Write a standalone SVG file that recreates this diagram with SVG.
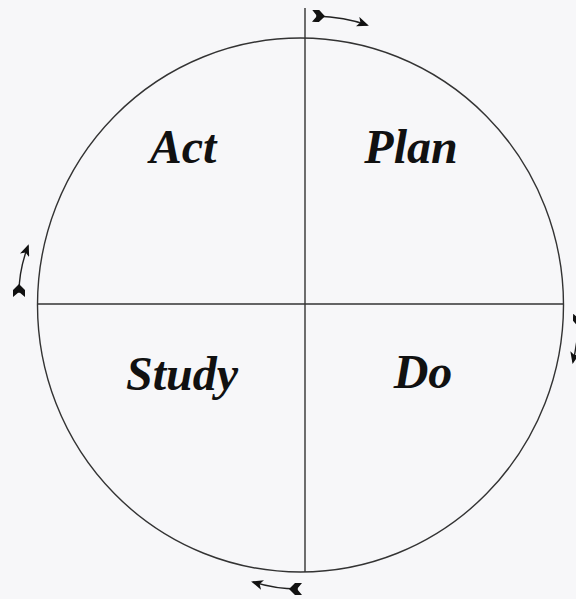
<svg xmlns="http://www.w3.org/2000/svg" width="576" height="599" viewBox="0 0 576 599">
<style>
.ln{fill:none;stroke:#333;stroke-width:1.4}
.arr{fill:none;stroke:#222;stroke-width:1.4;marker-start:url(#tail);marker-end:url(#head)}
.lbl{font-family:"Liberation Serif","DejaVu Serif",serif;font-style:italic;font-weight:bold;font-size:48px;fill:#111;text-anchor:middle}
</style>
<defs>
<marker id="head" viewBox="0 0 12 10" refX="10" refY="5" markerWidth="12" markerHeight="10" markerUnits="userSpaceOnUse" orient="auto">
<path d="M0,0 L12,5 L0,10 L3,5 z" fill="#111"/>
</marker>
<marker id="tail" viewBox="0 0 14 12" refX="4" refY="6" markerWidth="14" markerHeight="12" markerUnits="userSpaceOnUse" orient="auto">
<path d="M0,0 L7,0 L13,6 L7,12 L0,12 L5,6 z" fill="#111"/>
</marker>
</defs>
<rect width="576" height="599" fill="#f7f7f9"/>
<g id="connectors">
<path class="arr" d="M316,16 Q345,17 367,25"/>
<path class="arr" d="M19,293 Q19,270 28,246"/>
<path class="arr" d="M298,589 Q275,589 253,582"/>
<path class="arr" d="M579,318 Q578,340 573,362"/>
</g>
<g id="cycle">
<ellipse class="ln" cx="300.5" cy="305" rx="263" ry="267"/>
<line class="ln" x1="305" y1="8" x2="305" y2="572"/>
<line class="ln" x1="38" y1="304" x2="563" y2="304"/>
</g>
<g id="act"><text class="lbl" x="183" y="163">Act</text></g>
<g id="plan"><text class="lbl" x="411" y="163">Plan</text></g>
<g id="study"><text class="lbl" x="182" y="390">Study</text></g>
<g id="do"><text class="lbl" x="423" y="388">Do</text></g>
</svg>
